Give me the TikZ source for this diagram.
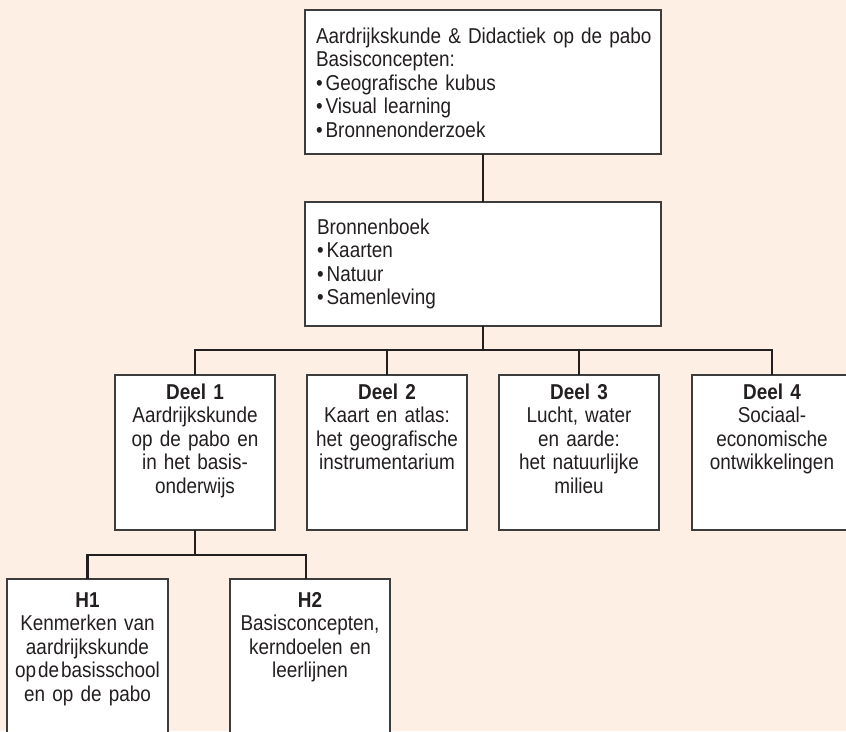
\documentclass[tikz,border=0pt]{standalone}
\usepackage{fontspec}
\setmainfont[FakeStretch=0.88]{Liberation Sans}
\usetikzlibrary{calc}
\definecolor{bgpeach}{HTML}{FDEFE3}
\definecolor{inkc}{HTML}{231F20}
\definecolor{edgec}{HTML}{3C3C3C}
\tikzset{
  box/.style={draw=edgec, line width=1.3pt, fill=white, inner sep=0pt, outer sep=0pt, rectangle},
  conn/.style={draw=inkc, line width=2.4pt},
  txtl/.style={inner sep=0pt, outer sep=0pt, text=inkc, anchor=base west, align=left, text width=340pt,
    font=\fontsize{21.5}{23.6}\selectfont},
  txtc/.style={inner sep=0pt, outer sep=0pt, text=inkc, anchor=base, align=center, text width=200pt,
    font=\fontsize{21.5}{23.6}\selectfont}
}
\newcommand{\bul}{\textbullet\hspace{3pt}}
\begin{document}
\begin{tikzpicture}[x=1pt,y=-1pt]
\fill[bgpeach] (0,0) rectangle (846,731);
\useasboundingbox (0,0) rectangle (846,731);
\clip (0,0) rectangle (846,731);
% boxes
\node[box, minimum width=356pt, minimum height=144pt] (top) at (483,82) {};
\node[box, minimum width=356pt, minimum height=124pt] (bb) at (483,264) {};
\node[box, minimum width=160pt, minimum height=155pt] (d1) at (195,452.5) {};
\node[box, minimum width=160pt, minimum height=155pt] (d2) at (387,452.5) {};
\node[box, minimum width=160pt, minimum height=155pt] (d3) at (579,452.5) {};
\node[box, minimum width=160pt, minimum height=155pt] (d4) at (772,452.5) {};
\node[box, minimum width=161pt, minimum height=170pt] (h1) at (87.5,664) {};
\node[box, minimum width=160pt, minimum height=170pt] (h2) at (310,664) {};
% junctions
\coordinate (j1) at (0,350);
\coordinate (j2) at (0,555);
% connectors
\draw[conn] (top.south) -- (bb.north);
\draw[conn] (bb.south) -- (bb.south |- j1);
\draw[conn] (bb.south |- j1) -| (d1.north);
\draw[conn] (bb.south |- j1) -| (d2.north);
\draw[conn] (bb.south |- j1) -| (d3.north);
\draw[conn] (bb.south |- j1) -| (d4.north);
\draw[conn] (d1.south) -- (d1.south |- j2);
\draw[conn] (d1.south |- j2) -| (h1.north);
\draw[conn] (d1.south |- j2) -| ([xshift=-4pt]h2.north);
% texts
\node[txtl] (topt) at (316,43) {Aardrijkskunde \& Didactiek op de pabo\\Basisconcepten:\\\bul Geografische kubus\\\bul Visual learning\\\bul Bronnenonderzoek};
\node[txtl] (bbt) at (317,234) {Bronnenboek\\\bul Kaarten\\\bul Natuur\\\bul Samenleving};
\node[txtc] (d1t) at (195,399) {\textbf{Deel 1}\\Aardrijkskunde\\op de pabo en\\in het basis-\\onderwijs};
\node[txtc] (d2t) at (387,399) {\textbf{Deel 2}\\Kaart en atlas:\\het geografische\\instrumentarium};
\node[txtc] (d3t) at (579,399) {\textbf{Deel 3}\\Lucht, water\\en aarde:\\het natuurlijke\\milieu};
\node[txtc] (d4t) at (772,399) {\textbf{Deel 4}\\Sociaal-\\economische\\ontwikkelingen};
\node[txtc] (h1t) at (87.5,607) {\textbf{H1}\\Kenmerken van\\aardrijkskunde\\{\spaceskip=2pt op de basisschool}\\en op de pabo};
\node[txtc] (h2t) at (310,607) {\textbf{H2}\\Basisconcepten,\\kerndoelen en\\leerlijnen};
\end{tikzpicture}
\end{document}
